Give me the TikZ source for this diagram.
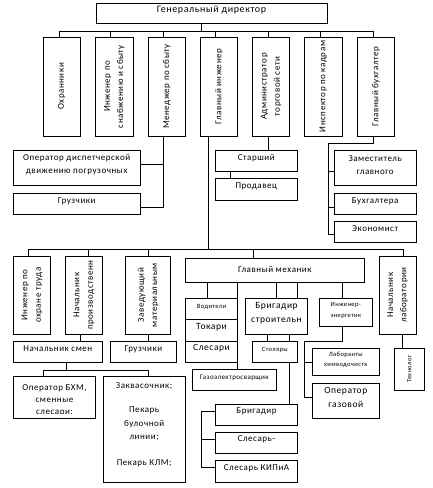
\documentclass[tikz,border=0pt]{standalone}
\usepackage{fontspec}
\setmainfont{Carlito}[LetterSpace=6]
\usetikzlibrary{fit,backgrounds}
\newcommand\myfs[2]{\fontsize{#1}{#2}\selectfont}
\tikzset{
  box/.style={draw, fill=white, line width=0.8pt, inner sep=0pt, align=center, font=\myfs{9}{13.4}},
  lbox/.style={box, align=left, text width=38pt},
  rtext/.style={rotate=90, align=center, inner sep=0pt, font=\myfs{9}{13.3}},
  conn/.style={line width=0.8pt},
}
\begin{document}
\begin{tikzpicture}[x=1pt,y=-1pt]
\useasboundingbox (0,0) rectangle (432,488);
% top
\node[box, font=\myfs{10}{13}, fit={(96,3)(327,23)}] (gd) {Генеральный директор};
\node[box, fit={(43.3,37)(80.3,136)}] (ohr) {};
\node[rtext] (ohrT) at (ohr.center) {Охранники};
\node[box, fit={(95.3,37)(133.3,136)}] (inzh) {};
\node[rtext] (inzhT) at (inzh.center) {Инженер по\\снабжению и сбыту};
\node[box, fit={(148.3,37)(185.3,136)}] (men) {};
\node[rtext] (menT) at (men.center) {Менеджер по сбыту};
\node[box, fit={(200.3,37)(237.7,136)}] (gi) {};
\node[rtext] (giT) at (gi.center) {Главный инженер};
\node[box, fit={(252.3,37)(289.7,136)}] (adm) {};
\node[rtext] (admT) at (adm.center) {Администратор\\торговой сети};
\node[box, fit={(304.3,37)(342.3,136)}] (insp) {};
\node[rtext] (inspT) at (insp.center) {Инспектор по кадрам};
\node[box, fit={(357.3,37)(394.7,136)}] (gb) {};
\node[rtext] (gbT) at (gb.center) {Главный бухгалтер};
% second level
\node[box, fit={(13.3,150.7)(140,185)}] (opd) {Оператор диспетчерской\\движению погрузочных};
\node[box, fit={(13.3,193.7)(140,214.3)}] (gr1) {Грузчики};
\node[box, fit={(215.3,150.7)(297.3,171.3)}] (star) {Старший};
\node[box, fit={(215.3,178.7)(297.3,200.3)}] (prod) {Продавец};
\node[box, fit={(334,150.7)(416.3,185)}] (zam) {Заместитель\\главного};
\node[box, fit={(334,193.7)(416.3,214)}] (buh) {Бухгалтера};
\node[box, fit={(334,221.7)(416.3,242)}] (eko) {Экономист};
% third level
\node[box, fit={(13.3,256)(50.7,334.3)}] (iot) {};
\node[rtext] (iotT) at (iot.center) {Инженер по\\охране труда};
\node[box, fit={(65.7,256)(102.3,334.3)}] (np) {};
\node[rtext] (npT) at (np.center) {Начальник\\производственн};
\node[box, fit={(125.7,256)(170.7,334.3)}] (zav) {};
\node[rtext] (zavT) at (zav.center) {Заведующий\\материальным};
\node[box, fit={(185.3,256)(364.3,284.3)}, text depth=10pt] (gm) {Главный механик};
\node[box, fit={(379.3,256)(416,334.3)}] (nl) {};
\node[rtext] (nlT) at (nl.center) {Начальник\\лаборатории};
\node[box, fit={(13.3,341.7)(102.3,362)}] (nsm) {Начальник смен};
\node[box, fit={(110,341.7)(176.7,362)}] (gr2) {Грузчики};
\node[box, fit={(13.3,376.7)(95.7,418.7)}] (obhm) {};
\begin{scope}
\clip (13.3,376.7) rectangle (95.7,413.3);
\node[align=center, anchor=north, inner sep=0pt, font=\myfs{9}{12}] (obhmt) at (54.5,384) {Оператор БХМ,\\сменные\\слесари;};
\end{scope}
\node[box, fit={(103.3,376.7)(185,482.3)}] (zakv) {};
\node[align=center, anchor=north, inner sep=0pt, font=\myfs{9}{13.5}] (zakvt) at (144.15,382.5) {Заквасочник;\\[10.5pt]Пекарь\\булочной\\линии;\\[12.5pt]Пекарь КЛМ;};
% mechanic
\node[lbox, font=\myfs{6.5}{9}, fit={(185.7,298.7)(237.3,319.3)}] (vod) {Водители};
\node[lbox, font=\myfs{9.5}{13}, fit={(185.7,319.3)(237.3,341)}] (tok) {Токари};
\node[lbox, font=\myfs{9.5}{13}, fit={(185.7,341)(237.3,362.3)}] (sles) {Слесари};
\node[box, font=\myfs{9.5}{13.4}, fit={(245.7,298.3)(307.3,334.3)}] (bs) {Бригадир\\строительн};
\node[box, font=\myfs{6.5}{11}, fit={(319.3,298.5)(372.3,326.3)}] (ie) {Инженер-\\энергетик};
\node[box, font=\myfs{6.5}{9}, fit={(252.3,341.7)(297.3,362.3)}] (stol) {Столяры};
\node[box, font=\myfs{7}{9}, fit={(192.3,369)(276.3,390.7)}] (gaz) {Газоэлектросварщик};
\node[box, fit={(215.7,404)(297.3,425)}] (brig) {Бригадир};
\node[box, fit={(215.7,432.3)(297.3,453)}] (sl2) {Слесарь-};
\node[box, fit={(215.7,460)(297.3,482.3)}] (kip) {Слесарь КИПиА};
\node[box, font=\myfs{6.5}{10.3}, fit={(312.3,348.7)(379.3,375.7)}] (lab) {Лаборанты\\химводочистк};
\node[box, font=\myfs{9.5}{14}, fit={(312.3,383.3)(379.3,418.7)}] (opg) {Оператор\\газовой};
\node[box, fit={(394.3,348.3)(424.3,390)}] (tech) {};
\node[rtext, font=\myfs{6.5}{9}] (techT) at (tech.center) {Технолог};
% connectors
\begin{scope}[on background layer, conn]
\coordinate (busA) at (58.7,30.7);
\coordinate (busB) at (372.7,30.7);
\draw (gd.south -| 201,0) -- (busA -| 201,0);
\draw (busA) -- (busB);
\foreach \x/\n in {58.7/ohr,110/inzh,162.7/men,215/gi,267.7/adm,319.7/insp,372.7/gb}
  \draw (busA -| \x,0) -- (\n.north -| \x,0);
\draw (men.south -| 162.7,0) |- (gr1.east |- 0,207.3);
\draw (opd.east |- 0,164) -| (men.south -| 162.7,0);
\draw (adm.south -| 267.7,0) -- (star.north -| 267.7,0);
\draw (star.south -| 230,0) -- (prod.north -| 230,0);
\draw (gb.south -| 372.7,0) -- (372.7,143.3) -| (327.7,234.3) -- (eko.west |- 0,234.3);
\draw (327.7,171.3) -- (zam.west |- 0,171.3);
\draw (327.7,206.7) -- (buh.west |- 0,206.7);
\coordinate (busC) at (28.3,249);
\coordinate (busD) at (402.7,249);
\draw (gi.south -| 207.7,0) -- (busC -| 207.7,0);
\draw (busC) -- (busD);
\foreach \x/\n in {28.3/iot,88.3/np,147.7/zav,252.7/gm,402.7/nl}
  \draw (busC -| \x,0) -- (\n.north -| \x,0);
\draw (np.south -| 80.3,0) -- (nsm.north -| 80.3,0);
\draw (zav.south -| 147.7,0) -- (gr2.north -| 147.7,0);
\draw (nsm.south -| 65.7,0) -- (65.7,370);
\draw (obhm.north -| 43.3,0) -- (43.3,370) -- (148.3,370) -- (zakv.north -| 148.3,0);
\draw (gm.south -| 207.3,0) -- (vod.north -| 207.3,0);
\draw (gm.south -| 237.3,0) -- (gaz.north -| 237.3,0);
\draw (gm.south -| 275.7,0) -- (bs.north -| 275.7,0);
\draw (gm.south -| 297.3,0) -- (bs.north -| 297.3,0);
\draw (gm.south -| 342.3,0) -- (ie.north -| 342.3,0);
\draw (bs.south -| 266.7,0) -- (stol.north -| 266.7,0);
\draw (bs.south -| 289.3,0) -- (brig.north -| 289.3,0);
\draw (brig.west |- 0,411) -| (200.7,466.7) -- (kip.west |- 0,466.7);
\draw (200.7,439.3) -- (sl2.west |- 0,439.3);
\draw (ie.south -| 342.3,0) |- (304.3,341) |- (opg.west |- 0,397);
\draw (304.3,362.3) -- (lab.west |- 0,362.3);
\draw (nl.south -| 402.3,0) -- (tech.north -| 402.3,0);
\end{scope}
\end{tikzpicture}
\end{document}
